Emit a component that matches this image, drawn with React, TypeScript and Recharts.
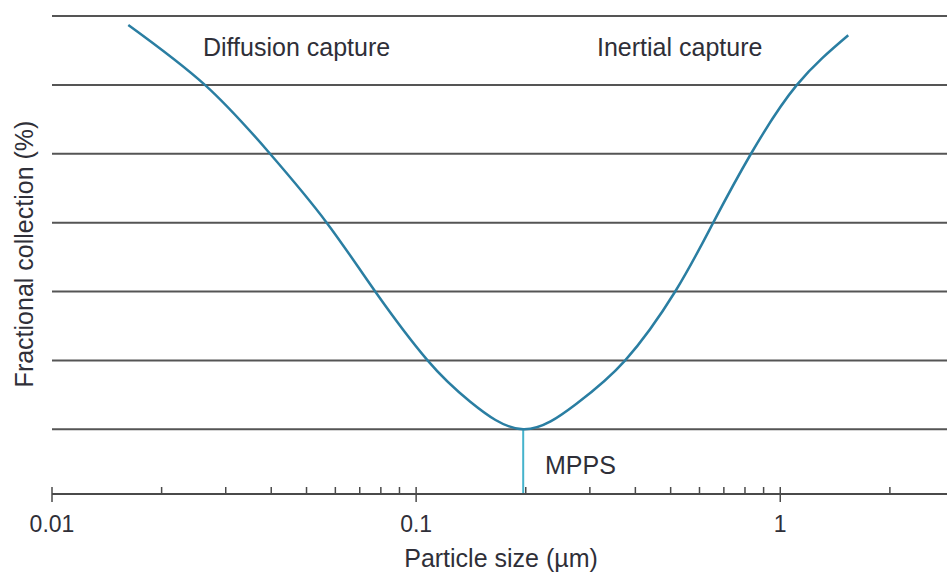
import { LineChart, Line, XAxis, YAxis, CartesianGrid, ReferenceLine } from "recharts";

// particle size (µm) and fractional collection (grid units, unlabeled in the figure)
const sizes = [0.0162, 0.0263, 0.0397, 0.0568, 0.0772, 0.1075, 0.1408, 0.1968, 0.2757, 0.3751, 0.5146, 0.6545, 0.8309, 1.111, 1.537];
const collection = [6.87, 6.0, 5.0, 4.0, 3.0, 2.0, 1.4, 1.0, 1.37, 2.0, 3.0, 4.0, 5.0, 6.0, 6.72];

const gridLevels = [1, 2, 3, 4, 5, 6, 7];
const majorTicks = [0.01, 0.1, 1];
const minorTicks = [0.02, 0.03, 0.04, 0.05, 0.06, 0.07, 0.08, 0.09, 0.2, 0.3, 0.4, 0.5, 0.6, 0.7, 0.8, 0.9, 2];
const mpps = 0.1968;

const data = sizes.map((s, i) => ({ size: s, value: collection[i] }));

const FONT = "'Liberation Sans', Arial, sans-serif";
const TEXT = "#2f2f38";
const AXIS = "#4a4a4a";

const SizeTick = (props: any) => {
  const { x, y, payload } = props;
  const major = majorTicks.includes(payload.value);
  return (
    <g>
      <line x1={x} x2={x} y1={y - 7} y2={major ? y + 8 : y} stroke={AXIS} strokeWidth={1.5} />
      {major && (
        <text x={x} y={y + 38} textAnchor="middle" fontSize={23} fontFamily={FONT} fill={TEXT}>
          {String(payload.value)}
        </text>
      )}
    </g>
  );
};

export default function App() {
  return (
    <div style={{ position: "absolute", left: 0, top: 0, background: "#fff" }}>
      <LineChart width={947} height={573} data={data} margin={{ top: 16, right: 0, left: 52, bottom: 0 }}>
        <CartesianGrid vertical={false} stroke="#555" strokeWidth={2} />
        <XAxis
          dataKey="size"
          type="number"
          scale="log"
          domain={[0.01, 2.87]}
          allowDataOverflow
          ticks={[...majorTicks, ...minorTicks].sort((a, b) => a - b)}
          interval={0}
          tick={<SizeTick />}
          tickLine={false}
          tickSize={0}
          tickMargin={0}
          axisLine={{ stroke: AXIS, strokeWidth: 2 }}
          height={79}
        />
        <YAxis hide type="number" domain={[0.06, 7]} ticks={gridLevels} />
        <ReferenceLine
          segment={[{ x: mpps, y: 0.06 }, { x: mpps, y: 1 }]}
          stroke="#45b3cc"
          strokeWidth={2}
        />
        <Line
          type="natural"
          dataKey="value"
          stroke="#2a7ea2"
          strokeWidth={2.5}
          dot={false}
          isAnimationActive={false}
        />
        <text x={203} y={56} fontSize={25} fontFamily={FONT} fill={TEXT}>Diffusion capture</text>
        <text x={597} y={56} fontSize={25} fontFamily={FONT} fill={TEXT}>Inertial capture</text>
        <text x={545} y={474} fontSize={25} fontFamily={FONT} fill={TEXT}>MPPS</text>
        <text x={501} y={567} textAnchor="middle" fontSize={25} fontFamily={FONT} fill={TEXT}>Particle size (µm)</text>
        <text
          x={33}
          y={254}
          textAnchor="middle"
          transform="rotate(-90 33 254)"
          fontSize={25}
          fontFamily={FONT}
          fill={TEXT}
        >
          Fractional collection (%)
        </text>
      </LineChart>
    </div>
  );
}
